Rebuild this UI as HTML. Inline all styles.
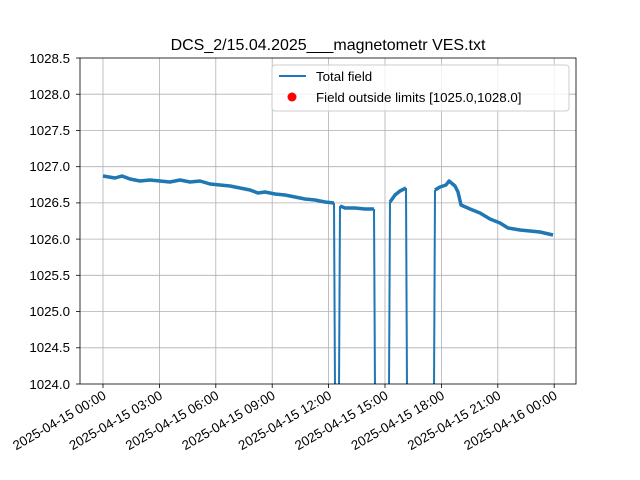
<!DOCTYPE html>
<html><head><style>
html,body{margin:0;padding:0;background:#fff;overflow:hidden;}
svg{display:block;}
svg text{font-family:"Liberation Sans","DejaVu Sans",sans-serif;}
</style></head><body>
<svg width="640" height="480" viewBox="0 0 640 480" xmlns="http://www.w3.org/2000/svg">
<defs><clipPath id="c"><rect x="80" y="58" width="496" height="326"/></clipPath></defs>
<rect width="640" height="480" fill="#fff"/>
<text x="328" y="50" font-size="16" text-anchor="middle">DCS_2/15.04.2025___magnetometr VES.txt</text>
<g stroke="#b0b0b0" stroke-width="0.8">
<line x1="80" x2="576" y1="94.2" y2="94.2"/><line x1="80" x2="576" y1="130.4" y2="130.4"/>
<line x1="80" x2="576" y1="166.7" y2="166.7"/><line x1="80" x2="576" y1="202.9" y2="202.9"/>
<line x1="80" x2="576" y1="239.1" y2="239.1"/><line x1="80" x2="576" y1="275.3" y2="275.3"/>
<line x1="80" x2="576" y1="311.6" y2="311.6"/><line x1="80" x2="576" y1="347.8" y2="347.8"/>
<line y1="58" y2="384" x1="103" x2="103"/><line y1="58" y2="384" x1="159.4" x2="159.4"/>
<line y1="58" y2="384" x1="215.8" x2="215.8"/><line y1="58" y2="384" x1="272.2" x2="272.2"/>
<line y1="58" y2="384" x1="328.6" x2="328.6"/><line y1="58" y2="384" x1="385" x2="385"/>
<line y1="58" y2="384" x1="441.4" x2="441.4"/><line y1="58" y2="384" x1="497.8" x2="497.8"/>
<line y1="58" y2="384" x1="554.2" x2="554.2"/>
</g>
<g clip-path="url(#c)" fill="none" stroke="#1f77b4" stroke-linejoin="round">
<polyline stroke-width="3.5" points="103,176 115,178 122,176 130,179 140,181 150,180 160,181 170,182 180,180 190,182 200,181 210,184 220,185 230,186 240,188 250,190 258,193 265,192 275,194 285,195 295,197 305,199 315,200 325,202 334,203"/>
<polyline stroke-width="3.5" points="340,206 345,208 355,208 365,209 374,209"/>
<polyline stroke-width="3.5" points="390,202 395,195 400,191 406,188"/>
<polyline stroke-width="3.5" points="435,190 440,187 446,185 449,181 455,186 458,192 461,205 470,209 480,213 490,219 500,223 508,228 520,230 530,231 540,232 553,235"/>
<g stroke-width="2">
<polyline points="334,203 335,390"/><polyline points="339,390 340,206"/>
<polyline points="374,209 375,390"/><polyline points="389,390 390,202"/>
<polyline points="406,188 407,390"/><polyline points="434,390 435,190"/>
</g>
</g>
<rect x="80" y="58" width="496" height="326" fill="none" stroke="#000" stroke-width="0.8"/>
<g font-size="13.3" text-anchor="end">
<text x="70" y="63">1028.5</text><text x="70" y="99">1028.0</text><text x="70" y="135">1027.5</text>
<text x="70" y="171">1027.0</text><text x="70" y="207">1026.5</text><text x="70" y="244">1026.0</text>
<text x="70" y="280">1025.5</text><text x="70" y="316">1025.0</text><text x="70" y="352">1024.5</text>
<text x="70" y="389">1024.0</text>
</g>
<g stroke="#000" stroke-width="0.8">
<line x1="76" x2="80" y1="58" y2="58"/><line x1="76" x2="80" y1="94.2" y2="94.2"/><line x1="76" x2="80" y1="130.4" y2="130.4"/><line x1="76" x2="80" y1="166.7" y2="166.7"/><line x1="76" x2="80" y1="202.9" y2="202.9"/><line x1="76" x2="80" y1="239.1" y2="239.1"/><line x1="76" x2="80" y1="275.3" y2="275.3"/><line x1="76" x2="80" y1="311.6" y2="311.6"/><line x1="76" x2="80" y1="347.8" y2="347.8"/><line x1="76" x2="80" y1="384" y2="384"/>
<line y1="384" y2="388" x1="103" x2="103"/><line y1="384" y2="388" x1="159.4" x2="159.4"/><line y1="384" y2="388" x1="215.8" x2="215.8"/><line y1="384" y2="388" x1="272.2" x2="272.2"/><line y1="384" y2="388" x1="328.6" x2="328.6"/><line y1="384" y2="388" x1="385" x2="385"/><line y1="384" y2="388" x1="441.4" x2="441.4"/><line y1="384" y2="388" x1="497.8" x2="497.8"/><line y1="384" y2="388" x1="554.2" x2="554.2"/>
</g>
<g font-size="13.3" text-anchor="end">
<text transform="translate(107,398) rotate(-30)">2025-04-15 00:00</text>
<text transform="translate(163.4,398) rotate(-30)">2025-04-15 03:00</text>
<text transform="translate(219.8,398) rotate(-30)">2025-04-15 06:00</text>
<text transform="translate(276.2,398) rotate(-30)">2025-04-15 09:00</text>
<text transform="translate(332.6,398) rotate(-30)">2025-04-15 12:00</text>
<text transform="translate(389,398) rotate(-30)">2025-04-15 15:00</text>
<text transform="translate(445.4,398) rotate(-30)">2025-04-15 18:00</text>
<text transform="translate(501.8,398) rotate(-30)">2025-04-15 21:00</text>
<text transform="translate(558.2,398) rotate(-30)">2025-04-16 00:00</text>
</g>
<rect x="272" y="65" width="297" height="46" rx="3" fill="#fff" fill-opacity="0.8" stroke="#ccc"/>
<line x1="279" x2="306" y1="76" y2="76" stroke="#1f77b4" stroke-width="2"/>
<text x="316" y="81" font-size="13.3">Total field</text>
<circle cx="292" cy="97" r="4.5" fill="red"/>
<text x="316" y="102" font-size="13.3">Field outside limits [1025.0,1028.0]</text>
</svg>
</body></html>
